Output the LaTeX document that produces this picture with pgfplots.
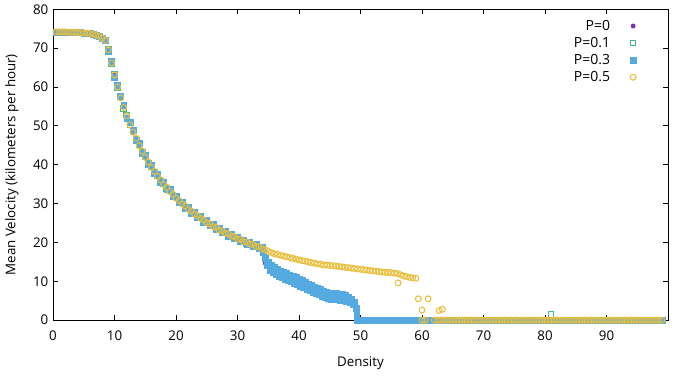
\documentclass[border=0pt]{standalone}
\usepackage{fontspec}
\setmainfont{Open Sans}
\usepackage{pgfplots}
\usepackage{pgfplotstable}
\pgfplotsset{compat=1.18}
\definecolor{c0}{RGB}{125,45,175}
\definecolor{c1}{RGB}{70,185,150}
\definecolor{c2}{RGB}{85,170,225}
\definecolor{c3}{RGB}{232,190,60}
\pgfplotstableread{
x a b c d
0.5 74.2 74.2 74.2 74.2
1 74.2 74.2 74.2 74.2
1.5 74.2 74.2 74.2 74.2
2 74.2 74.2 74.2 74.2
2.5 74.1 74.1 74.1 74.1
3 74.1 74.1 74.1 74.1
3.5 74.1 74.1 74.1 74.1
4 74.0 74.0 74.0 74.0
4.5 74.0 74.0 74.0 74.0
5 73.9 73.9 73.9 73.9
5.5 73.9 73.9 73.9 73.9
6 73.8 73.8 73.8 73.8
6.5 73.6 73.6 73.6 73.6
7 73.4 73.4 73.4 73.4
7.5 73.1 73.1 73.1 73.1
8 72.6 72.6 72.6 72.6
8.5 72.0 72.0 72.0 72.0
9 69.5 69.8 69.2 69.6
9.5 66.3 66.0 66.6 66.2
10 63.0 63.3 62.6 63.1
10.5 60.1 59.8 60.4 60.0
11 57.0 57.5 57.6 57.2
11.5 54.9 54.5 55.2 54.7
12 52.3 52.8 52.0 52.6
12.5 50.6 50.2 50.9 50.3
13 48.2 48.7 48.9 48.4
13.5 46.9 46.5 46.2 46.8
14 44.8 45.2 45.5 44.9
14.5 43.6 43.2 43.0 43.5
15 41.8 42.2 42.4 41.9
15.5 40.8 40.4 40.1 40.7
16 39.2 39.6 39.8 39.3
16.5 38.4 38.0 37.8 38.3
17 36.9 37.3 37.5 37.0
17.5 36.2 35.8 35.6 36.1
18 34.8 35.2 35.4 34.9
18.5 34.3 33.9 33.7 34.2
19 33.0 33.4 33.6 33.1
19.5 32.5 32.1 31.9 32.4
20 31.3 31.7 31.9 31.4
20.5 30.9 30.5 30.3 30.8
21 29.8 30.2 30.4 29.9
21.5 29.5 29.1 28.9 29.4
22 28.4 28.8 29.0 28.5
22.5 28.2 27.8 27.6 28.1
23 27.2 27.6 27.8 27.3
23.5 27.0 26.6 26.4 26.9
24 26.1 26.5 26.7 26.2
24.5 25.9 25.5 25.3 25.8
25 25.0 25.4 25.6 25.1
25.5 24.9 24.5 24.3 24.8
26 24.0 24.4 24.6 24.1
26.5 24.0 23.6 23.4 23.9
27 23.1 23.5 23.7 23.2
27.5 23.1 22.7 22.5 23.0
28 22.3 22.7 22.9 22.4
28.5 22.3 21.9 21.7 22.2
29 21.5 21.9 22.1 21.6
29.5 21.6 21.2 21.0 21.5
30 20.8 21.2 21.4 20.9
30.5 20.9 20.5 20.3 20.8
31 20.1 20.5 20.7 20.2
31.5 20.2 19.8 19.6 20.1
32 19.5 19.9 20.1 19.6
32.5 19.6 19.2 19.0 19.5
33 18.9 19.3 19.5 19.0
33.5 19.0 18.6 18.4 18.9
34 18.3 18.7 18.9 18.4
}\common
\pgfplotstableread{
x y
34.5 14.7
35 14.0
35.5 13.4
36 12.9
36.5 12.4
37 12.0
37.5 11.6
38 11.2
38.5 10.8
39 10.4
39.5 10.0
40 9.6
40.5 9.2
41 8.8
41.5 8.4
42 8.0
42.5 7.6
43 7.3
43.5 7.0
44 6.4
44.5 5.2
45 5.0
45.5 5.4
46 5.7
46.5 5.8
47 5.6
47.5 5.3
48 5.0
48.5 4.5
49 3.8
49.3 3.0
}\tailA
\pgfplotstableread{
x y
34.5 16.0
35 15.0
35.5 14.2
36 13.6
36.5 13.0
37 12.5
37.5 12.0
38 11.6
38.5 11.1
39 10.7
39.5 10.3
40 9.9
40.5 9.5
41 9.1
41.5 8.7
42 8.3
42.5 7.9
43 7.6
43.5 7.3
44 7.0
44.5 6.7
45 6.5
45.5 6.3
46 6.2
46.5 6.1
47 6.0
47.5 5.7
48 5.3
48.5 4.8
49 4.0
81 1.5
}\tailB
\pgfplotstableread{
x y
34.25 17.5
34.5 15.8
34.75 14.2
35 14.6
35.25 12.8
35.5 13.9
35.75 12.2
36 13.5
36.25 11.8
36.5 13.0
36.75 11.4
37 12.6
37.25 11.0
37.5 12.4
37.75 10.6
38 12.0
38.25 10.3
38.5 11.7
38.75 10.0
39 11.3
39.25 9.6
39.5 11.0
39.75 9.2
40 10.6
40.25 8.8
40.5 10.2
40.75 8.4
41 9.7
41.25 8.0
41.5 9.3
41.75 7.6
42 8.9
42.25 7.2
42.5 8.5
42.75 6.9
43 8.2
43.25 6.6
43.5 7.9
43.75 6.2
44 7.5
44.25 5.8
44.5 7.2
44.75 5.5
45 7.0
45.25 5.4
45.5 6.9
45.75 5.3
46 6.9
46.25 5.3
46.5 6.8
46.75 5.2
47 6.6
47.25 5.0
47.5 6.3
47.75 4.8
48 5.9
48.25 4.5
48.5 5.3
48.75 4.2
49 4.5
49.25 3.0
49.4 1.5
}\tailC
\pgfplotstableread{
x y
34.5 18.1
35 17.7
35.5 17.4
36 17.1
36.5 16.9
37 16.7
37.5 16.5
38 16.3
38.5 16.1
39 15.9
39.5 15.7
40 15.5
40.5 15.3
41 15.2
41.5 15.0
42 14.8
42.5 14.7
43 14.5
43.5 14.4
44 14.2
44.5 14.2
45 14.1
45.5 14.0
46 13.9
46.5 13.8
47 13.7
47.5 13.6
48 13.5
48.5 13.4
49 13.3
49.5 13.2
50 13.1
50.5 13.0
51 12.9
51.5 12.8
52 12.7
52.5 12.6
53 12.5
53.5 12.4
54 12.3
54.5 12.3
55 12.2
55.5 12.1
56 12.0
56.1 9.6
56.5 11.7
57 11.4
57.5 11.2
58 11.0
58.5 10.9
59 10.8
59.4 5.5
60 2.6
61 5.5
62.8 2.5
63.3 2.8
60 0
60.5 0
}\tailD
\pgfplotstableread[row sep=\\]{
x y\\
49.5 0\\ 50 0\\ 50.5 0\\ 51 0\\ 51.5 0\\ 52 0\\ 52.5 0\\ 53 0\\ 53.5 0\\ 54 0\\
54.5 0\\ 55 0\\ 55.5 0\\ 56 0\\ 56.5 0\\ 57 0\\ 57.5 0\\ 58 0\\ 58.5 0\\ 59 0\\
59.5 0\\ 60 0\\ 60.5 0\\ 61 0\\ 61.5 0\\ 62 0\\ 62.5 0\\ 63 0\\ 63.5 0\\ 64 0\\
64.5 0\\ 65 0\\ 65.5 0\\ 66 0\\ 66.5 0\\ 67 0\\ 67.5 0\\ 68 0\\ 68.5 0\\ 69 0\\
69.5 0\\ 70 0\\ 70.5 0\\ 71 0\\ 71.5 0\\ 72 0\\ 72.5 0\\ 73 0\\ 73.5 0\\ 74 0\\
74.5 0\\ 75 0\\ 75.5 0\\ 76 0\\ 76.5 0\\ 77 0\\ 77.5 0\\ 78 0\\ 78.5 0\\ 79 0\\
79.5 0\\ 80 0\\ 80.5 0\\ 81 0\\ 81.5 0\\ 82 0\\ 82.5 0\\ 83 0\\ 83.5 0\\ 84 0\\
84.5 0\\ 85 0\\ 85.5 0\\ 86 0\\ 86.5 0\\ 87 0\\ 87.5 0\\ 88 0\\ 88.5 0\\ 89 0\\
89.5 0\\ 90 0\\ 90.5 0\\ 91 0\\ 91.5 0\\ 92 0\\ 92.5 0\\ 93 0\\ 93.5 0\\ 94 0\\
94.5 0\\ 95 0\\ 95.5 0\\ 96 0\\ 96.5 0\\ 97 0\\ 97.5 0\\ 98 0\\ 98.5 0\\ 99 0\\
}\zeros
\pgfplotsset{
  s0/.style={only marks, mark=*, mark size=1.6pt, color=c0},
  s1/.style={only marks, mark=square, mark size=2.1pt, color=c1, mark options={line width=0.8pt}},
  s2/.style={only marks, mark=square*, mark size=2.2pt, color=c2},
  s3/.style={only marks, mark=o, mark size=2.2pt, color=c3, mark options={line width=0.8pt}},
}
\begin{document}
\begin{tikzpicture}
\begin{axis}[
  scale only axis,
  width=461pt, height=233pt,
  xmin=0, xmax=100, ymin=0, ymax=80,
  xtick={0,10,...,90}, ytick={0,10,...,80},
  tick align=inside,
  major tick length=3.5pt,
  axis line style={line width=0.6pt},
  every tick/.style={black, line width=0.6pt},
  /pgf/number format/assume math mode=true,
  tick label style={font=\fontsize{10}{12}\selectfont},
  xticklabel style={yshift=-4.5pt},
  label style={font=\fontsize{10}{12}\selectfont},
  xlabel={Density},
  ylabel={Mean Velocity (kilometers per hour)},
  xlabel style={at={(axis description cs:0.5,-0.1385)}, anchor=center},
  ylabel style={at={(axis description cs:-0.0667,0.5)}, anchor=center},
  legend style={draw=none, fill=none, at={(axis description cs:0.955,0.984)}, anchor=north east,
    font=\fontsize{10.5}{12}\selectfont, row sep=-0.3pt,
    /tikz/every odd column/.append style={column sep=13pt}},
  legend cell align=right,
  legend plot pos=right,
  clip=false,
]
\addplot[s0] table[x=x,y=a] {\common};
\addlegendentry{P=0}
\addplot[s0, forget plot] table {\tailA};
\addplot[s0, forget plot] table {\zeros};
\addplot[s1] table[x=x,y=b] {\common};
\addlegendentry{P=0.1}
\addplot[s1, forget plot] table {\tailB};
\addplot[s1, forget plot] table {\zeros};
\addplot[s2] table[x=x,y=c] {\common};
\addlegendentry{P=0.3}
\addplot[s2, forget plot] table {\tailC};
\addplot[s2, forget plot] table {\zeros};
\addplot[s3] table[x=x,y=d] {\common};
\addlegendentry{P=0.5}
\addplot[s3, forget plot] table {\tailD};
\addplot[s3, forget plot, restrict x to domain=62:99] table {\zeros};
\end{axis}
\useasboundingbox (current axis.south west) ++(-39.75pt,-41.25pt) rectangle ([shift={(9.75pt,7pt)}]current axis.north east);
\end{tikzpicture}
\end{document}
